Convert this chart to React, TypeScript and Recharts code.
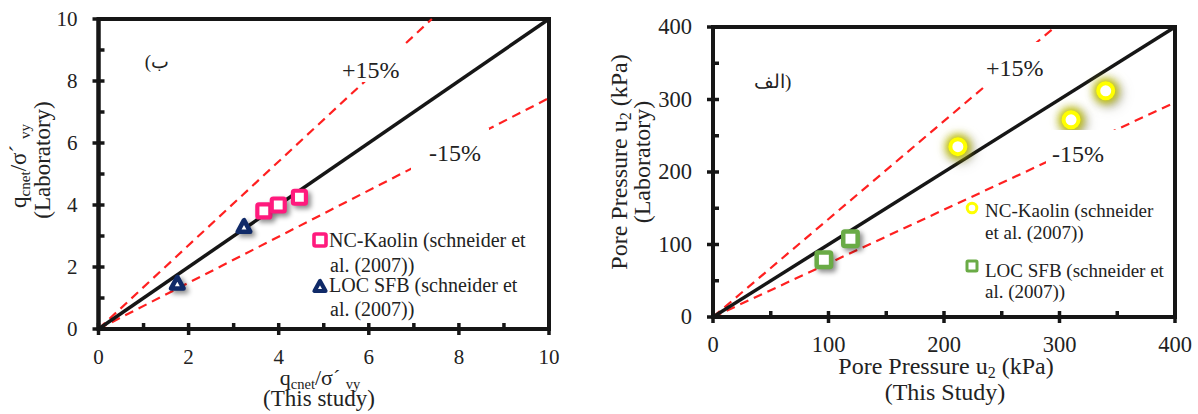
import React from "react";
import { ComposedChart, Line, Scatter, XAxis, YAxis, ReferenceArea } from "recharts";

const FONT = '"Liberation Serif", "Times New Roman", serif';
const INK = "#161616";

// left panel: q_cnet / sigma'_vy
const qTicks = [0, 1, 2, 3, 4, 5, 6, 7, 8, 9, 10];
const qLabels = [0, 2, 4, 6, 8, 10];
const kaolinQ = [
  { x: 3.67, y: 3.81 },
  { x: 3.99, y: 4.0 },
  { x: 4.46, y: 4.25 },
];
const sfbQ = [
  { x: 1.75, y: 1.47 },
  { x: 3.23, y: 3.3 },
];
const equalQ = [{ x: 0, y: 0 }, { x: 10, y: 10 }];
const plusQ = [{ x: 0, y: 0 }, { x: 7.4, y: 10 }];
const minusQ = [{ x: 0, y: 0 }, { x: 10, y: 7.45 }];

// right panel: pore pressure u2
const uTicks = [0, 50, 100, 150, 200, 250, 300, 350, 400];
const uLabels = [0, 100, 200, 300, 400];
const kaolinU = [
  { x: 212, y: 235 },
  { x: 310, y: 272 },
  { x: 340, y: 312 },
];
const sfbU = [
  { x: 96, y: 79 },
  { x: 119, y: 108 },
];
const equalU = [{ x: 0, y: 0 }, { x: 400, y: 400 }];
const plusU = [{ x: 0, y: 0 }, { x: 296, y: 400 }];
const minusU = [{ x: 0, y: 0 }, { x: 400, y: 296 }];

const shadow = "drop-shadow(3px 3px 2.5px rgba(0,0,0,0.45))";

function xTick(labels: number[], fontSize: number, dy: number) {
  return (props: any) => {
    const { x, y, payload } = props;
    const major = labels.includes(payload.value);
    return (
      <g>
        <line x1={x} x2={x} y1={y - 6} y2={major ? y + 6 : y} stroke={INK} strokeWidth={3.5} />
        {major && (
          <text x={x} y={y + dy} textAnchor="middle" fontSize={fontSize} fontFamily={FONT} fill="#222">
            {payload.value}
          </text>
        )}
      </g>
    );
  };
}

function yTick(labels: number[], fontSize: number) {
  return (props: any) => {
    const { x, y, payload } = props;
    const major = labels.includes(payload.value);
    return (
      <g>
        <line x1={major ? x - 6 : x} x2={x + 6} y1={y} y2={y} stroke={INK} strokeWidth={3.5} />
        {major && (
          <text x={x - 21} y={y + 7} textAnchor="end" fontSize={fontSize} fontFamily={FONT} fill="#222">
            {payload.value}
          </text>
        )}
      </g>
    );
  };
}

const PinkSquare = (p: any) =>
  p.cx == null ? null : (
    <rect x={p.cx - 6.5} y={p.cy - 6.5} width={13} height={13} rx={1.5} fill="#fff"
      stroke="#ff1a7d" strokeWidth={4.2} style={{ filter: shadow }} />
  );

const NavyTriangle = (p: any) =>
  p.cx == null ? null : (
    <polygon points={`${p.cx},${p.cy - 6.5} ${p.cx - 6.2},${p.cy + 5} ${p.cx + 6.2},${p.cy + 5}`}
      fill="#fff" stroke="#102a68" strokeWidth={4.6} strokeLinejoin="round" style={{ filter: shadow }} />
  );

const YellowCircle = (p: any) =>
  p.cx == null ? null : (
    <circle cx={p.cx} cy={p.cy} r={7.5} fill="#fff" stroke="#ffff00" strokeWidth={4}
      style={{ filter: "drop-shadow(0 0 5px #bdbd00) drop-shadow(0 0 4px #d0d000) drop-shadow(3px 3px 4px rgba(0,0,0,0.35))" }} />
  );

const GreenSquare = (p: any) =>
  p.cx == null ? null : (
    <rect x={p.cx - 7.2} y={p.cy - 7.2} width={14.4} height={14.4} rx={1.5} fill="#fff"
      stroke="#6aab46" strokeWidth={4.5} style={{ filter: shadow }} />
  );

const red = { stroke: "#ff2020", strokeWidth: 2.2, strokeDasharray: "9 6" };

function LeftChart() {
  return (
    <ComposedChart width={600} height={414} margin={{ top: 19, right: 51, bottom: 55, left: 38.5 }}>
      <XAxis type="number" dataKey="x" domain={[0, 10]} ticks={qTicks} interval={0}
        tickSize={0} tickMargin={0} tickLine={false} height={30}
        axisLine={{ stroke: INK, strokeWidth: 4 }} tick={xTick(qLabels, 21, 35)} />
      <YAxis type="number" dataKey="y" domain={[0, 10]} ticks={qTicks} interval={0}
        tickSize={0} tickMargin={0} tickLine={false} width={60}
        axisLine={{ stroke: INK, strokeWidth: 4 }} tick={yTick(qLabels, 21)} />
      <ReferenceArea x1={0} x2={10} y1={0} y2={10} fill="none" stroke={INK} strokeWidth={4} />
      <Line data={plusQ} dataKey="y" dot={false} {...red} isAnimationActive={false} />
      <Line data={minusQ} dataKey="y" dot={false} {...red} isAnimationActive={false} />
      <Line data={equalQ} dataKey="y" dot={false} stroke={INK} strokeWidth={3.5} isAnimationActive={false} />
      <Scatter data={sfbQ} shape={NavyTriangle} isAnimationActive={false} />
      <Scatter data={kaolinQ} shape={PinkSquare} isAnimationActive={false} />
    </ComposedChart>
  );
}

function RightChart() {
  return (
    <ComposedChart width={598} height={414} margin={{ top: 27, right: 23, bottom: 67, left: 53 }}>
      <XAxis type="number" dataKey="x" domain={[0, 400]} ticks={uTicks} interval={0}
        tickSize={0} tickMargin={0} tickLine={false} height={30}
        axisLine={{ stroke: INK, strokeWidth: 4 }} tick={xTick(uLabels, 22.5, 35)} />
      <YAxis type="number" dataKey="y" domain={[0, 400]} ticks={uTicks} interval={0}
        tickSize={0} tickMargin={0} tickLine={false} width={60}
        axisLine={{ stroke: INK, strokeWidth: 4 }} tick={yTick(uLabels, 22.5)} />
      <ReferenceArea x1={0} x2={400} y1={0} y2={400} fill="none" stroke={INK} strokeWidth={4} />
      <Line data={plusU} dataKey="y" dot={false} {...red} isAnimationActive={false} />
      <Line data={minusU} dataKey="y" dot={false} {...red} isAnimationActive={false} />
      <Line data={equalU} dataKey="y" dot={false} stroke={INK} strokeWidth={3.5} isAnimationActive={false} />
      <Scatter data={sfbU} shape={GreenSquare} isAnimationActive={false} />
      <Scatter data={kaolinU} shape={YellowCircle} isAnimationActive={false} />
    </ComposedChart>
  );
}

const Sub = ({ children, size, shift = 4 }: { children: string; size: number; shift?: number }) => (
  <tspan fontSize={size} dy={shift}>{children}</tspan>
);

function QLabel({ size }: { size: number }) {
  const s = size * 0.66;
  return (
    <>
      q<Sub size={s}>cnet</Sub>
      <tspan dy={-4}>/σ´ </tspan>
      <Sub size={s}>vy</Sub>
    </>
  );
}

function Overlay() {
  const t = { fontFamily: FONT, fill: "#222" };
  return (
    <svg width={1198} height={414} style={{ position: "absolute", left: 0, top: 0, pointerEvents: "none" }}>
      {/* left panel */}
      <text {...t} fontSize={23} textAnchor="middle" transform="translate(26,166) rotate(-90)">
        <QLabel size={23} />
      </text>
      <text {...t} fontSize={23} textAnchor="middle" transform="translate(50,160) rotate(-90)">
        (Laboratory)
      </text>
      <text {...t} fontSize={22} x={320} y={385} textAnchor="middle">
        <QLabel size={22} />
      </text>
      <text {...t} fontSize={23} x={319} y={406} textAnchor="middle">(This study)</text>
      <rect x={338} y={44} width={72} height={38} fill="#fff" />
      <text {...t} fontSize={24} x={342} y={78}>+15%</text>
      <rect x={411} y={128} width={78} height={42} fill="#fff" />
      <text {...t} fontSize={24} x={429} y={161}>-15%</text>
      <text {...t} fontSize={19} x={169} y={68} textAnchor="start" direction="rtl">ب)</text>

      <rect x={314} y={234} width={12} height={12} rx={1.5} fill="#fff" stroke="#ff1a7d" strokeWidth={3.6} />
      <text {...t} fontSize={20} x={329} y={247}>NC-Kaolin (schneider et</text>
      <text {...t} fontSize={20} x={330} y={272}>al. (2007))</text>
      <polygon points="320,281 314.5,291 325.5,291" fill="#fff" stroke="#102a68" strokeWidth={4.2} strokeLinejoin="round" />
      <text {...t} fontSize={20} x={329} y={292}>LOC SFB (schneider et</text>
      <text {...t} fontSize={20} x={330} y={316}>al. (2007))</text>

      {/* right panel */}
      <text {...t} fontSize={24} textAnchor="middle" transform="translate(627,162) rotate(-90)">
        Pore Pressure u<Sub size={16}>2</Sub>
        <tspan dy={-4}> (kPa)</tspan>
      </text>
      <text {...t} fontSize={24} textAnchor="middle" transform="translate(650,162) rotate(-90)">
        (Laboratory)
      </text>
      <text {...t} fontSize={24} x={946} y={374} textAnchor="middle">
        Pore Pressure u<Sub size={16}>2</Sub>
        <tspan dy={-4}> (kPa)</tspan>
      </text>
      <text {...t} fontSize={24} x={945} y={400} textAnchor="middle">(This Study)</text>
      <rect x={983} y={42} width={62} height={46} fill="#fff" />
      <text {...t} fontSize={24} x={986} y={76}>+15%</text>
      <rect x={1046} y={130} width={70} height={40} fill="#fff" />
      <text {...t} fontSize={24} x={1052} y={162}>-15%</text>
      <text {...t} fontSize={19} x={754} y={88}>الف)</text>

      <circle cx={972} cy={208} r={4.8} fill="#fff" stroke="#ffff00" strokeWidth={3} />
      <text {...t} fontSize={19} x={985} y={217}>NC-Kaolin (schneider</text>
      <text {...t} fontSize={19} x={985} y={239}>et al. (2007))</text>
      <rect x={967} y={261} width={10} height={10} rx={1} fill="#fff" stroke="#6aab46" strokeWidth={3} />
      <text {...t} fontSize={19} x={985} y={277}>LOC SFB (schneider et</text>
      <text {...t} fontSize={19} x={985} y={298}>al. (2007))</text>
    </svg>
  );
}

export default function App() {
  return (
    <div style={{ position: "absolute", left: 0, top: 0, width: 1198, height: 414, background: "#fff" }}>
      <div style={{ position: "absolute", left: 0, top: 0 }}>
        <LeftChart />
      </div>
      <div style={{ position: "absolute", left: 600, top: 0 }}>
        <RightChart />
      </div>
      <Overlay />
    </div>
  );
}
